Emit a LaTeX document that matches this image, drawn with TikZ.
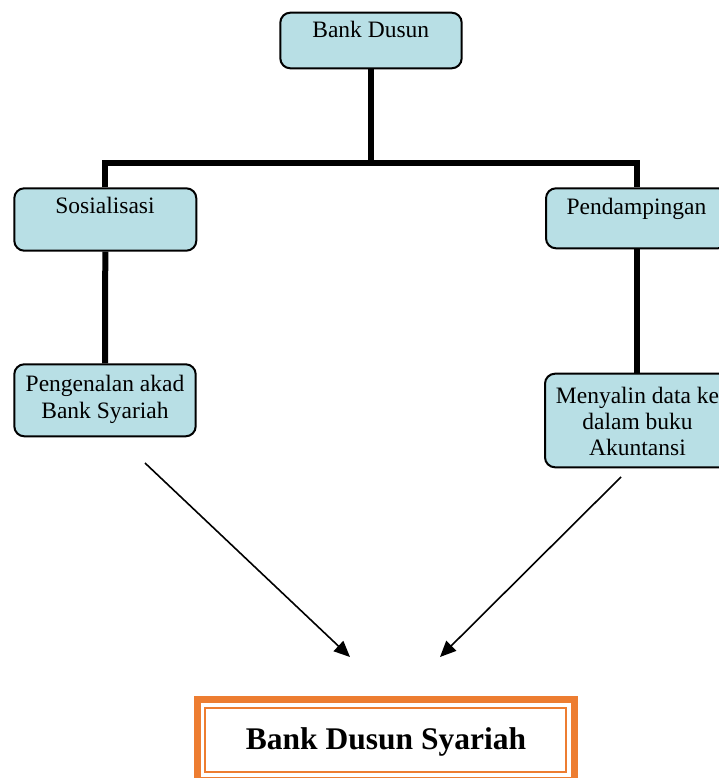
\documentclass[tikz,border=0pt]{standalone}
\usepackage{fontspec}
\setmainfont{Liberation Serif}
\usetikzlibrary{arrows.meta}
\definecolor{tealfill}{RGB}{184,223,229}
\definecolor{orng}{RGB}{237,125,49}
\begin{document}
\begin{tikzpicture}[x=1pt,y=-1pt,
  box/.style={draw, line width=2pt, rounded corners=10pt, fill=tealfill, inner sep=0pt},
  lbl/.style={anchor=base, inner sep=0pt, font=\fontsize{23.5}{26}\selectfont},
  tree/.style={line width=6pt},
  arr/.style={line width=1.6pt, -{Triangle[length=16pt,width=14pt]}}]
\useasboundingbox (0,0) rectangle (718,778);
% boxes
\node[box, minimum width=181.4pt, minimum height=55.6pt] (bd) at (371,40.5) {};
\node[box, minimum width=182pt, minimum height=62.4pt] (sos) at (105.3,219.5) {};
\node[box, minimum width=182pt, minimum height=60pt] (pen) at (637,218.3) {};
\node[box, minimum width=181.4pt, minimum height=72pt] (pkb) at (105,400.3) {};
\node[box, minimum width=184pt, minimum height=93.6pt] (men) at (637,420.5) {};
% labels
\node[lbl] (bdt) at (370.8,37.3) {Bank Dusun};
\node[lbl] (sost) at (105,213.3) {Sosialisasi};
\node[lbl] (pent) at (636.5,214) {Pendampingan};
\node[lbl] (pkb1) at (105,391.7) {Pengenalan akad};
\node[lbl] (pkb2) at (105,418) {Bank Syariah};
\node[lbl] (men1) at (637.5,403.3) {Menyalin data ke};
\node[lbl] (men2) at (637.5,429.3) {dalam buku};
\node[lbl] (men3) at (637.5,455.7) {Akuntansi};
% tree connectors
\coordinate (hub) at (371,163);
\draw[tree] (bd.south) -- (hub);
\draw[tree] (sos.north) |- (hub) -| (pen.north);
\draw[tree] (sos.south) -- (pkb.north);
\draw[tree] (pen.south) -- (men.north);
% arrows
\coordinate (a1s) at (145,463);
\coordinate (a1e) at (350,657);
\coordinate (a2s) at (621,477);
\coordinate (a2e) at (440,657);
\draw[arr] (a1s) -- (a1e);
\draw[arr] (a2s) -- (a2e);
% final box
\node[draw=orng, line width=7pt, minimum width=377pt, minimum height=80.7pt, inner sep=0pt] (bds) at (386,740) {};
\draw[orng, line width=2.5pt] ([shift={(11,12)}]bds.north west) rectangle ([shift={(-12,-12)}]bds.south east);
\node[anchor=base, inner sep=0pt, font=\fontsize{31.5}{36}\selectfont\bfseries] (bdst) at (386,749) {Bank Dusun Syariah};
\end{tikzpicture}
\end{document}
